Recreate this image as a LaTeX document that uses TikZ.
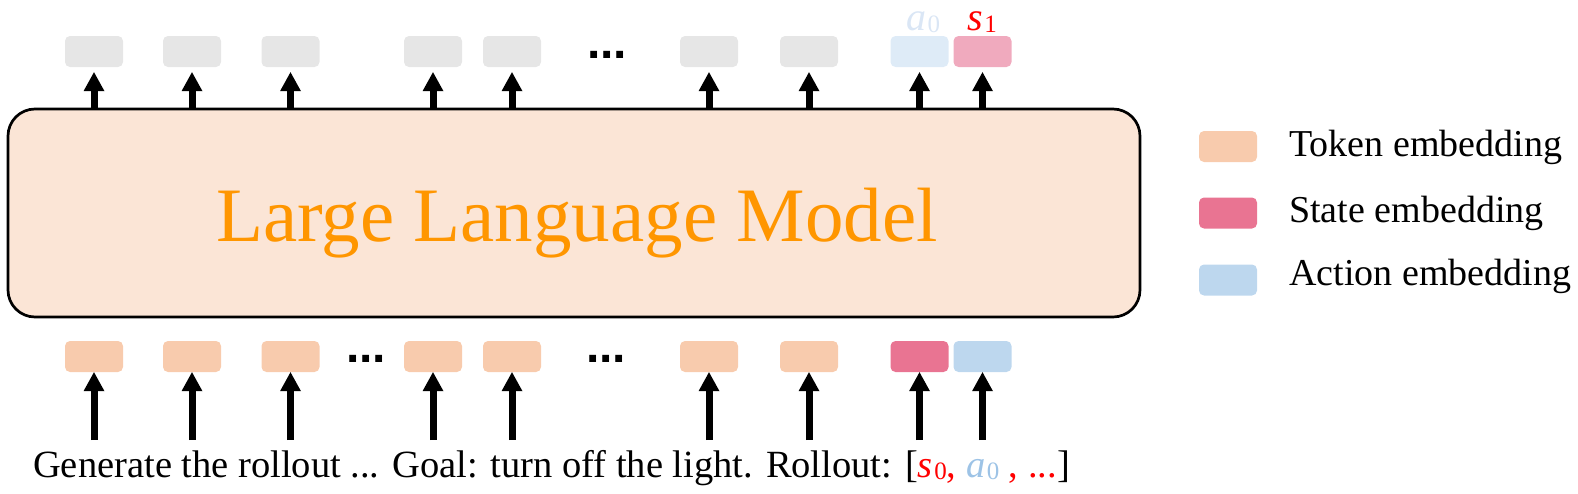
\documentclass[tikz,border=0pt]{standalone}
\usepackage{fontspec}
\setmainfont{Liberation Serif}
\setsansfont{Liberation Sans}
\usepackage{tikz}
\usetikzlibrary{arrows.meta}

\definecolor{llmfill}{HTML}{FBE5D6}
\definecolor{llmorange}{RGB}{255,150,0}
\definecolor{tokcol}{HTML}{F8CBAD}
\definecolor{statecol}{RGB}{233,116,146}
\definecolor{actcol}{HTML}{BDD7EE}
\definecolor{outgray}{HTML}{E6E6E6}
\definecolor{outact}{HTML}{DEEBF7}
\definecolor{outstate}{RGB}{240,170,190}
\definecolor{lighta}{RGB}{218,230,245}
\definecolor{textblue}{HTML}{9DC3E6}

\newcommand{\subvar}[2]{\textit{#1}\kern1.5pt\raisebox{-2pt}{\fontsize{25}{27}\selectfont #2}}

\begin{document}
\begin{tikzpicture}[x=1pt, y=-1pt,
  emb/.style={rounded corners=5pt, minimum width=58pt, minimum height=31pt, inner sep=0pt},
  uparr/.style={line width=7pt, -{Triangle[width=21pt,length=19pt,line width=0pt]}},
  dots/.style={font=\fontsize{48}{50}\selectfont\sffamily\bfseries, inner sep=0pt, anchor=base},
  legtext/.style={font=\fontsize{38}{44}\selectfont, inner sep=0pt, anchor=base west}]
			\useasboundingbox (0,0) rectangle (1578,493);
			% the model
			\node[draw, line width=2.7pt, fill=llmfill, rounded corners=27pt, minimum width=1132pt, minimum height=208pt] (llm) at (574,213) {};
			\node[text=llmorange, font=\fontsize{77}{80}\selectfont, inner sep=0pt, anchor=base] (llmtext) at (577,241) {Large Language Model};
			% input embeddings
			\node[emb, fill=tokcol] (t1) at (94,356.5) {};
			\node[emb, fill=tokcol] (t2) at (192,356.5) {};
			\node[emb, fill=tokcol] (t3) at (290.5,356.5) {};
			\node[emb, fill=tokcol] (t4) at (433,356.5) {};
			\node[emb, fill=tokcol] (t5) at (512,356.5) {};
			\node[emb, fill=tokcol] (t6) at (709,356.5) {};
			\node[emb, fill=tokcol] (t7) at (809,356.5) {};
			\node[emb, fill=statecol] (t8) at (919.5,356.5) {};
			\node[emb, fill=actcol] (t9) at (982.5,356.5) {};
			\node[dots] (d1) at (366,362) {...};
			\node[dots] (d2) at (606,362) {...};
			% output embeddings
			\node[emb, fill=outgray] (o1) at (94,51.5) {};
			\node[emb, fill=outgray] (o2) at (192,51.5) {};
			\node[emb, fill=outgray] (o3) at (290.5,51.5) {};
			\node[emb, fill=outgray] (o4) at (433,51.5) {};
			\node[emb, fill=outgray] (o5) at (512,51.5) {};
			\node[emb, fill=outgray] (o6) at (709,51.5) {};
			\node[emb, fill=outgray] (o7) at (809,51.5) {};
			\node[emb, fill=outact] (o8) at (919.5,51.5) {};
			\node[emb, fill=outstate] (o9) at (982.5,51.5) {};
			\node[dots] (d3) at (607,58) {...};
			\node[text=lighta, font=\fontsize{40}{44}\selectfont, inner sep=0pt, anchor=base] (la0) at (923,30) {\subvar{a}{0}};
			\node[text=red, font=\fontsize{40}{44}\selectfont, inner sep=0pt, anchor=base] (ls1) at (982,30) {\subvar{s}{1}};
			% prompt
			\node[font=\fontsize{38.5}{44}\selectfont, inner sep=0pt, anchor=base west] (prompt) at (33,477) {Generate the rollout ... Goal: turn off the light. Rollout: [\textcolor{red}{\subvar{s}{0},}\ \textcolor{textblue}{\subvar{a}{0}}\ \textcolor{red}{, ...}]};
			\coordinate (base) at (0,440);
			% arrows
			\draw[uparr] (t1 |- base) -- (t1.south);
			\draw[uparr] (t2 |- base) -- (t2.south);
			\draw[uparr] (t3 |- base) -- (t3.south);
			\draw[uparr] (t4 |- base) -- (t4.south);
			\draw[uparr] (t5 |- base) -- (t5.south);
			\draw[uparr] (t6 |- base) -- (t6.south);
			\draw[uparr] (t7 |- base) -- (t7.south);
			\draw[uparr] (t8 |- base) -- (t8.south);
			\draw[uparr] (t9 |- base) -- (t9.south);
			\draw[uparr, shorten >=5pt] (o1 |- llm.north) -- (o1.south);
			\draw[uparr, shorten >=5pt] (o2 |- llm.north) -- (o2.south);
			\draw[uparr, shorten >=5pt] (o3 |- llm.north) -- (o3.south);
			\draw[uparr, shorten >=5pt] (o4 |- llm.north) -- (o4.south);
			\draw[uparr, shorten >=5pt] (o5 |- llm.north) -- (o5.south);
			\draw[uparr, shorten >=5pt] (o6 |- llm.north) -- (o6.south);
			\draw[uparr, shorten >=5pt] (o7 |- llm.north) -- (o7.south);
			\draw[uparr, shorten >=5pt] (o8 |- llm.north) -- (o8.south);
			\draw[uparr, shorten >=5pt] (o9 |- llm.north) -- (o9.south);
			% legend
			\node[emb, fill=tokcol] (k1) at (1228,146.5) {};
			\node[emb, fill=statecol] (k2) at (1228,213) {};
			\node[emb, fill=actcol] (k3) at (1228,280) {};
			\node[legtext] (k1text) at (1289,156) {Token embedding};
			\node[legtext] (k2text) at (1289,222) {State embedding};
			\node[legtext] (k3text) at (1289,285) {Action embedding};
		\end{tikzpicture}
\end{document}
